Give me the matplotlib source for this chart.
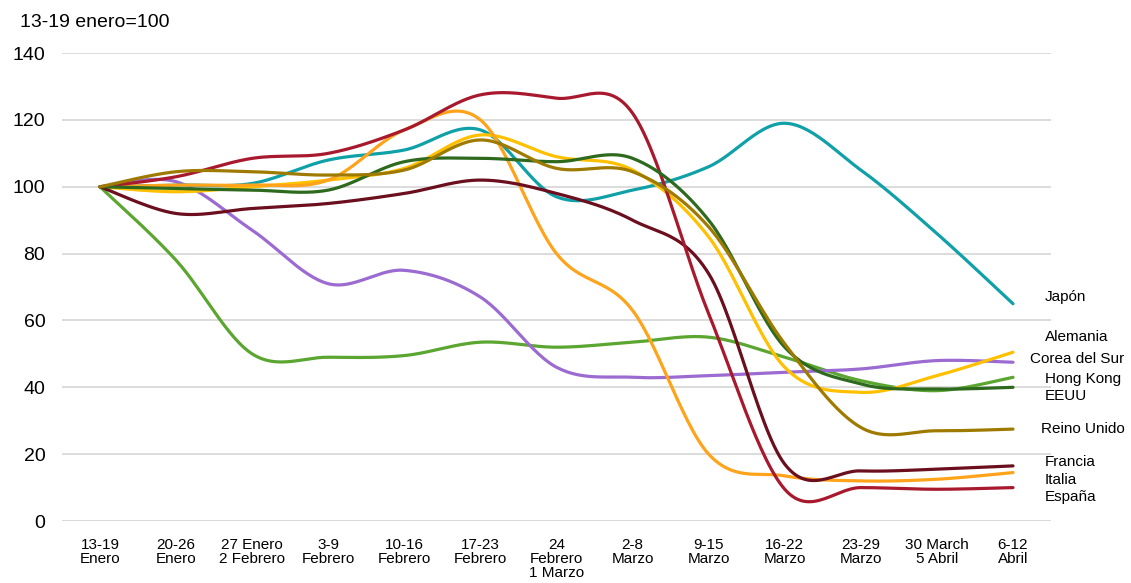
#!/usr/bin/env python3
"""Indice semanal 13-19 enero=100, por pais (lineas suavizadas estilo Excel)."""
import numpy as np
import matplotlib.pyplot as plt

semanas = ['13-19\nEnero', '20-26\nEnero', '27 Enero\n2 Febrero', '3-9\nFebrero',
           '10-16\nFebrero', '17-23\nFebrero', '24\nFebrero\n1 Marzo', '2-8\nMarzo',
           '9-15\nMarzo', '16-22\nMarzo', '23-29\nMarzo', '30 March\n5 Abril', '6-12\nAbril']

japon = [100, 100.5, 101, 108, 111, 117, 97, 99, 106, 119, 105, 86, 65]
espana = [100, 103, 108.5, 110, 117, 127.5, 126.5, 122, 62, 9.5, 10, 9.5, 10]
francia = [100, 92, 93.5, 95, 98, 102, 98, 90, 74, 17, 15, 15.5, 16.5]
italia = [100, 100.5, 100.5, 102, 117, 120, 80, 63, 20, 13.5, 12, 12.5, 14.5]
corea = [100, 101.5, 87, 71, 75, 67, 46, 43, 43.5, 44.5, 45.5, 48, 47.5]
hong_kong = [100, 78, 50, 49, 49.5, 53.5, 52, 53.5, 55, 49, 42, 39, 43]
eeuu = [100, 99.5, 99, 99, 107.5, 108.5, 107.5, 108.5, 90, 52, 41, 39.5, 40]
alemania = [100, 98.5, 100, 102, 105.5, 115.5, 109, 105, 85, 46, 38.5, 43.5, 50.5]
reino_unido = [100, 104.5, 104.5, 103.5, 105, 114, 105.5, 104.5, 88, 53, 28, 27, 27.5]

series = [
    ('Hong Kong', hong_kong, '#5BA531', 42.5),
    ('Corea del Sur', corea, '#9B6BD1', 48.5),
    ('Japón', japon, '#0FA0A8', 67),
    ('Alemania', alemania, '#FFC000', 55),
    ('Italia', italia, '#FFA31A', 12.3),
    ('Francia', francia, '#6B0E1E', 17.7),
    ('España', espana, '#A8192E', 7.2),
    ('EEUU', eeuu, '#2E6A1E', 37.4),
    ('Reino Unido', reino_unido, '#9E7B00', 27.5),
]
label_x = {'Corea del Sur': 12.23, 'Reino Unido': 12.37}


def smooth(x, y, n=30):
    # Catmull-Rom style bezier, similar to Excel "smoothed line"
    x = np.asarray(x, float)
    y = np.asarray(y, float)
    px = np.concatenate([[x[0]], x, [x[-1]]])
    py = np.concatenate([[y[0]], y, [y[-1]]])
    xs, ys = [], []
    t = np.linspace(0, 1, n)
    for i in range(len(x) - 1):
        p0 = np.array([px[i], py[i]])
        p1 = np.array([px[i + 1], py[i + 1]])
        p2 = np.array([px[i + 2], py[i + 2]])
        p3 = np.array([px[i + 3], py[i + 3]])
        c1 = p1 + (p2 - p0) / 6
        c2 = p2 - (p3 - p1) / 6
        b = ((1 - t) ** 3)[:, None] * p1 + (3 * (1 - t) ** 2 * t)[:, None] * c1 \
            + (3 * (1 - t) * t ** 2)[:, None] * c2 + (t ** 3)[:, None] * p2
        xs.append(b[:, 0])
        ys.append(b[:, 1])
    return np.concatenate(xs), np.concatenate(ys)


plt.rcParams['font.family'] = ['Liberation Sans', 'DejaVu Sans']

fig = plt.figure(figsize=(11.31, 5.83), dpi=100)
ax = fig.add_axes([0.0548, 0.1063, 0.8745, 0.8027])

xpos = np.arange(len(semanas))
for name, vals, color, ly in series:
    sx, sy = smooth(xpos, vals)
    ax.plot(sx, sy, color=color, lw=2.3, solid_capstyle='round')
    ax.text(label_x.get(name, 12.42), ly, name, fontsize=11, va='center', ha='left',
            clip_on=False)

ax.set_xlim(-0.5, 12.5)
ax.set_ylim(0, 140)
ax.set_yticks(range(0, 141, 20))
ax.yaxis.grid(True, color='#D9D9D9', lw=1.3)
ax.set_axisbelow(True)
ax.set_xticks(xpos)
ax.set_xticklabels(semanas, fontsize=11, linespacing=1.0,
                   family=['Liberation Sans Narrow', 'Liberation Sans'])
ax.tick_params(axis='both', length=0)
ax.tick_params(axis='y', labelsize=14, pad=12)
ax.tick_params(axis='x', pad=12)
for s in ax.spines.values():
    s.set_visible(False)
ax.axhline(0, color='#D9D9D9', lw=1.3, zorder=0)

fig.text(0.018, 0.962, '13-19 enero=100', fontsize=14, va='center', ha='left')

fig.savefig('out.png', dpi=100)
print('Saved out.png')
